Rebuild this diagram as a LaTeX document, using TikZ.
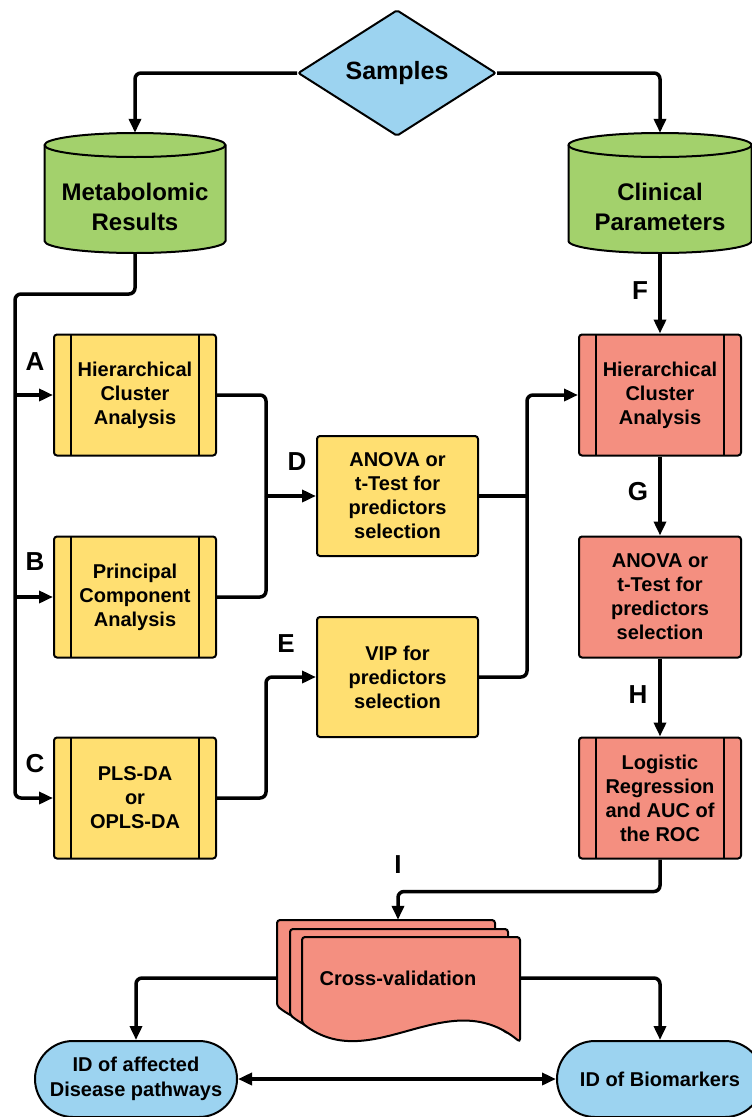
\documentclass[tikz,border=0pt]{standalone}
\usepackage{fontspec}
\setmainfont{Liberation Sans}
\usetikzlibrary{shapes.geometric, shapes.misc, arrows.meta, positioning, calc}

\definecolor{procyellow}{RGB}{255,223,113}
\definecolor{procred}{RGB}{244,143,128}
\definecolor{dbgreen}{RGB}{163,209,108}
\definecolor{termblue}{RGB}{156,211,240}

\begin{document}
\begin{tikzpicture}[x=1pt, y=-1pt,
    conn/.style={line width=3.5pt, rounded corners=6pt},
    arr/.style={conn, -{Triangle[length=14pt,width=12pt]}},
    txt/.style={font=\fontsize{20}{24}\selectfont\bfseries, align=center},
    letter/.style={font=\fontsize{26}{26}\selectfont\bfseries},
    proc/.style={draw, line width=2pt, rounded corners=3pt, minimum width=162pt, minimum height=121pt, txt},
    sub/.style={proc, path picture={
        \draw[line width=2pt] ([xshift=17pt]path picture bounding box.north west) -- ([xshift=17pt]path picture bounding box.south west);
        \draw[line width=2pt] ([xshift=-17pt]path picture bounding box.north east) -- ([xshift=-17pt]path picture bounding box.south east);}},
    db/.style={minimum width=181pt, minimum height=120pt, inner sep=0pt},
    dbline/.style={line width=2pt},
    dbtext/.style={font=\fontsize{24}{30}\selectfont\bfseries, align=center},
    term/.style={draw, line width=2pt, fill=termblue, rounded rectangle, minimum width=202pt, minimum height=76pt, inner sep=0pt, txt, font=\fontsize{20}{25}\selectfont\bfseries},
    sheet/.style={draw, line width=2pt, fill=procred, rounded corners=3pt}
  ]
  \useasboundingbox (0,0) rectangle (752,1117);
  \clip (0,0) rectangle (752,1117);

  % Start
  \node[draw, diamond, line width=2pt, fill=termblue, minimum width=198pt, minimum height=118pt, inner sep=0pt, rounded corners=2pt, font=\fontsize{25}{25}\selectfont\bfseries] (samples) at (397,73) {Samples};

  % Data sources (cylinders)
  \draw[dbline, fill=dbgreen] (44.5,145) -- (44.5,241) arc[start angle=180, end angle=360, x radius=90.5pt, y radius=12pt]
    -- (225.5,145) arc[start angle=0, end angle=180, x radius=90.5pt, y radius=12pt] -- cycle;
  \draw[dbline] (44.5,145) arc[start angle=180, end angle=360, x radius=90.5pt, y radius=12pt];
  \draw[dbline, fill=dbgreen] (568.5,145) -- (568.5,241) arc[start angle=180, end angle=360, x radius=91.5pt, y radius=12pt]
    -- (751.5,145) arc[start angle=0, end angle=180, x radius=91.5pt, y radius=12pt] -- cycle;
  \draw[dbline] (568.5,145) arc[start angle=180, end angle=360, x radius=91.5pt, y radius=12pt];
  \node[db] (metab) at (135,193) {};
  \node[dbtext] (metabtxt) at (135,207) {Metabolomic\\Results};
  \node[db, minimum width=183pt] (clin) at (660,193) {};
  \node[dbtext] (clintxt) at (660,207) {Clinical\\Parameters};

  % Metabolomic branch
  \node[sub, fill=procyellow] (hca) at (135,395) {Hierarchical\\Cluster\\Analysis};
  \node[sub, fill=procyellow] (pca) at (135,597) {Principal\\Component\\Analysis};
  \node[sub, fill=procyellow] (pls) at (135,798) {PLS-DA\\or\\OPLS-DA};
  \node[proc, fill=procyellow, minimum width=161pt, minimum height=120pt] (anova) at (397.5,496) {ANOVA or\\t-Test for\\predictors\\selection};
  \node[proc, fill=procyellow, minimum width=161pt, minimum height=120pt] (vip) at (397.5,677) {VIP for\\predictors\\selection};

  % Clinical branch
  \node[sub, fill=procred] (hcaR) at (660,395) {Hierarchical\\Cluster\\Analysis};
  \node[proc, fill=procred] (anovaR) at (660,597) {ANOVA or\\t-Test for\\predictors\\selection};
  \node[sub, fill=procred] (logreg) at (660,798) {Logistic\\Regression\\and AUC of\\the ROC};

  % Cross-validation stack
  \foreach \sx/\sy in {277/920, 290/929, 302/937}
    \draw[sheet] (\sx,\sy+86) -- (\sx,\sy) -- (\sx+218,\sy) -- (\sx+218,\sy+105)
      .. controls (\sx+145,\sy+45) and (\sx+70,\sy+140) .. (\sx,\sy+86) -- cycle;
  \node[minimum width=218pt, minimum height=105pt, inner sep=0pt] (cvback) at (386,972.5) {};
  \node[minimum width=218pt, minimum height=105pt, inner sep=0pt] (cvfront) at (411,989.5) {};
  \node[txt] (cv) at (398,978) {Cross-validation};

  % Results
  \node[term] (idpath) at (136,1079) {ID of affected\\Disease pathways};
  \node[term, minimum width=206pt] (idbio) at (660,1079) {ID of Biomarkers};

  % Edges
  \draw[arr] (samples.west) -| (metab.north);
  \draw[arr] (samples.east) -| (clin.north);

  \coordinate (bus) at (15,294);
  \draw[arr] (metab.south) |- (bus) |- (pls.west);
  \draw[arr] (bus |- hca.west) -- (hca.west);
  \draw[arr] (bus |- pca.west) -- (pca.west);

  \path (anova.west) ++(-50pt,0) coordinate (jD);
  \draw[conn] (hca.east) -| (jD);
  \draw[conn] (pca.east) -| (jD);
  \draw[arr] (jD) -- (anova.west);
  \path (vip.west) ++(-50pt,0) coordinate (jE);
  \draw[arr] (pls.east) -| (jE) -- (vip.west);

  \path (hcaR.west) ++(-51pt,0) coordinate (jR);
  \draw[conn] (anova.east) -- (anova.east -| jR);
  \draw[arr] (vip.east) -| (jR) -- (hcaR.west);

  \draw[arr] (clin.south) -- (hcaR.north);
  \draw[arr] (hcaR.south) -- (anovaR.north);
  \draw[arr] (anovaR.south) -- (logreg.north);
  \draw[arr] (logreg.south) -- ++(0,32) -| (cv |- cvback.north);

  \draw[arr] (cvback.west |- cv) -| (idpath.north);
  \draw[arr] (cvfront.east |- cv) -| (idbio.north);
  \draw[conn, {Triangle[length=14pt,width=12pt]}-{Triangle[length=14pt,width=12pt]}] (idpath.east) -- (idbio.west);

  % Step labels
  \node[letter] (lA) at (35,362) {A};
  \node[letter] (lB) at (35,562) {B};
  \node[letter] (lC) at (35,764) {C};
  \node[letter] (lD) at (297,462) {D};
  \node[letter] (lE) at (286,644) {E};
  \node[letter] (lF) at (640,291) {F};
  \node[letter] (lG) at (638,492) {G};
  \node[letter] (lH) at (638,695) {H};
  \node[letter] (lI) at (398,865) {I};
\end{tikzpicture}
\end{document}
